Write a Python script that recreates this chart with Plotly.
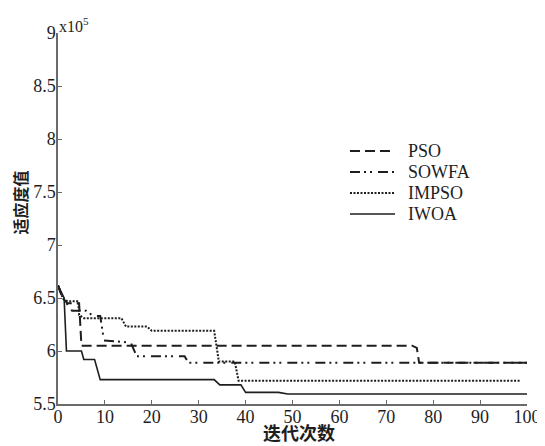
import plotly.graph_objects as go

# Iteration (x) and fitness (y, in units of 1e5) vertices
pso_x = [0, 1, 2, 4.5, 5, 75.5, 76.5, 77, 100]
pso_y = [6.62, 6.5, 6.45, 6.45, 6.05, 6.05, 6.03, 5.89, 5.89]

sowfa_x = [0, 1, 3, 6, 7.5, 9, 9.8, 15.5, 16.8, 27, 27.8, 100]
sowfa_y = [6.62, 6.5, 6.38, 6.38, 6.33, 6.33, 6.10, 6.08, 5.95, 5.95, 5.89, 5.89]

impso_x = [0, 1, 2, 4.3, 4.5, 5.5, 13.5, 14.5, 19, 20, 33.3, 34.3, 37.7, 38.5, 98.7]
impso_y = [6.62, 6.5, 6.47, 6.47, 6.34, 6.31, 6.31, 6.23, 6.23, 6.19, 6.19, 5.90, 5.90, 5.72, 5.72]

iwoa_x = [0, 1.3, 1.8, 5, 5.5, 7.8, 9, 33.3, 34.5, 39, 40, 47, 49, 100]
iwoa_y = [6.62, 6.5, 6.0, 6.0, 5.92, 5.92, 5.73, 5.73, 5.68, 5.68, 5.61, 5.61, 5.595, 5.595]

series_names = ["PSO", "SOWFA", "IMPSO", "IWOA"]

x_ticks = [0, 10, 20, 30, 40, 50, 60, 70, 80, 90, 100]
y_ticks = [5.5, 6, 6.5, 7, 7.5, 8, 8.5, 9]
y_tick_text = ["5.5", "6", "6.5", "7", "7.5", "8", "8.5", "9"]

x_title = "迭代次数"
y_title = "适应度值"
scale_label = "x10<sup>5</sup>"

styles = [
    ("10px,5px", 2),
    ("10px,4px,2px,4px,2px,6px", 2),
    ("2px,1.5px", 2),
    ("solid", 1.6),
]
data = [(pso_x, pso_y), (sowfa_x, sowfa_y), (impso_x, impso_y), (iwoa_x, iwoa_y)]

serif = "Liberation Serif"
cjk = "Noto Sans CJK SC"
ink = "#1e1e1e"
axis_col = "#6a6a6a"

# the page's default body margin shifts the figure by 8px right and down
OFF = 8
W, H = 545, 446
# target plot box in screen pixels: x 58..527, y 33..404
L, R, T, B = 58 - OFF, W - (527 - OFF), 33 - OFF, H - (404 - OFF)
pw, ph = W - L - R, H - T - B


def px_to_paper(px, py):
    # screen pixel -> paper coordinate
    return (px - OFF - L) / pw, (H - B - (py - OFF)) / ph


fig = go.Figure()
for name, (xs, ys), (dash, w) in zip(series_names, data, styles):
    fig.add_trace(go.Scatter(
        x=xs, y=ys, mode="lines", name=name, showlegend=False,
        line=dict(color=ink, width=w, dash=dash),
    ))

# manual legend
leg_rows = [151, 172, 193, 214]
for name, (dash, w), py in zip(series_names, styles, leg_rows):
    x0, yy = px_to_paper(350, py)
    x1, _ = px_to_paper(395, py)
    fig.add_shape(type="line", xref="paper", yref="paper", x0=x0, x1=x1, y0=yy, y1=yy,
                  line=dict(color=ink, width=w, dash=dash))
    tx, _ = px_to_paper(407, py)
    fig.add_annotation(x=tx, y=yy, xref="paper", yref="paper", xanchor="left", yanchor="middle",
                       text=name, showarrow=False, borderpad=0,
                       font=dict(family=serif, size=18, color=ink))

fig.update_layout(
    width=W, height=H,
    margin=dict(l=L, r=R, t=T, b=B),
    paper_bgcolor="white", plot_bgcolor="white",
    showlegend=False,
    font=dict(family=serif, size=18, color=ink),
)

fig.update_xaxes(
    range=[0, 100], tickvals=x_ticks,
    showline=True, linecolor=axis_col, linewidth=1.5,
    ticks="inside", ticklen=4, tickcolor=axis_col,
    showgrid=False, zeroline=False, ticklabelstandoff=-4,
    tickfont=dict(family=serif, size=18, color=ink),
)
fig.update_yaxes(
    range=[5.5, 9], tickvals=y_ticks, ticktext=y_tick_text,
    showline=True, linecolor=axis_col, linewidth=1.5,
    ticks="inside", ticklen=4, tickcolor=axis_col,
    showgrid=False, zeroline=False, ticklabelstandoff=-3,
    tickfont=dict(family=serif, size=18, color=ink),
)

# axis titles as annotations placed where the reference has them
xt, yt = px_to_paper(299, 446)
fig.add_annotation(x=xt, y=yt, xref="paper", yref="paper", xanchor="center", yanchor="bottom",
                   text=x_title, showarrow=False, borderpad=0,
                   font=dict(family=cjk, size=18, color=ink, weight="bold"))
xt, yt = px_to_paper(19.5, 203)
fig.add_annotation(x=xt, y=yt, xref="paper", yref="paper", xanchor="center", yanchor="middle",
                   text=y_title, showarrow=False, textangle=-90, borderpad=0,
                   font=dict(family=cjk, size=16, color=ink, weight="bold"))

sx, sy = px_to_paper(58, 36)
fig.add_annotation(x=sx, y=sy, xref="paper", yref="paper", xanchor="left", yanchor="bottom",
                   text=scale_label, showarrow=False, borderpad=0,
                   font=dict(family=serif, size=16, color=ink))

fig.write_html("out.html")
